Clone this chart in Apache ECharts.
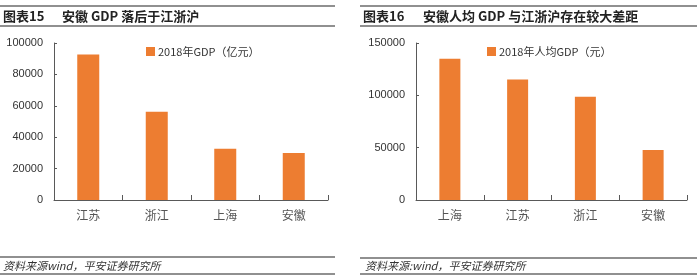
<!DOCTYPE html>
<html><head><meta charset="utf-8">
<script src="https://cdn.jsdelivr.net/npm/echarts@6/dist/echarts.min.js"></script>
<style>html,body{margin:0;padding:0;background:#fff}#c{width:700px;height:280px}</style>
</head><body><div id="c"></div>
<script>
const categoriesGDP = ['江苏', '浙江', '上海', '安徽'];
const valuesGDP = [92600, 56200, 32700, 30000];
const seriesNameGDP = '2018年GDP（亿元）';
const categoriesPC = ['上海', '江苏', '浙江', '安徽'];
const valuesPC = [134900, 115200, 98600, 47700];
const seriesNamePC = '2018年人均GDP（元）';
const yTicksGDP = { min: 0, max: 100000, interval: 20000 };
const yTicksPC = { min: 0, max: 150000, interval: 50000 };

const chart = echarts.init(document.getElementById('c'), null, { renderer: 'canvas' });
const BAR = '#ED7D31';
const AX = '#595959';
const lineStyle = { stroke: '#6b6b6b', lineWidth: 1.6 };
function hline(x1, x2, y) {
  return { type: 'line', shape: { x1: x1, y1: y, x2: x2, y2: y }, style: lineStyle, silent: true };
}
function txt(x, y, t, opts) {
  return { type: 'text', x: x, y: y, style: Object.assign({ text: t, fill: '#222', verticalAlign: 'middle', fontFamily: '"Noto Sans CJK SC", sans-serif', fontSize: 13, fontWeight: 'bold' }, opts || {}), silent: true };
}
function yAxis(idx, t) {
  return {
    type: 'value', gridIndex: idx, min: t.min, max: t.max, interval: t.interval,
    axisLine: { show: true, lineStyle: { color: AX, width: 1 } },
    axisTick: { show: true, inside: true, length: 3, lineStyle: { color: AX } },
    splitLine: { show: false },
    axisLabel: { color: '#333', fontSize: 11, fontFamily: '"Liberation Sans", Arial, sans-serif', margin: 11,
      formatter: function (v) { return String(v); } }
  };
}
function xAxis(idx, cats) {
  return {
    type: 'category', gridIndex: idx, data: cats,
    axisLine: { lineStyle: { color: AX, width: 1 } },
    axisTick: { show: true, inside: true, length: 5, lineStyle: { color: AX } },
    axisLabel: { color: '#555', fontSize: 12, fontFamily: '"Noto Sans CJK SC", serif', margin: 9 }
  };
}
chart.setOption({
  animation: false,
  grid: [
    { left: 54, right: 372, top: 43, bottom: 80 },
    { left: 416, right: 13, top: 43, bottom: 80 }
  ],
  xAxis: [xAxis(0, categoriesGDP), xAxis(1, categoriesPC)],
  yAxis: [yAxis(0, yTicksGDP), yAxis(1, yTicksPC)],
  legend: [
    { data: [seriesNameGDP], left: 141, top: 41, itemWidth: 9, itemHeight: 9, itemGap: 4, icon: 'rect',
      textStyle: { fontSize: 11, color: '#333', fontFamily: '"Noto Sans CJK SC", sans-serif', padding: [0, 0, 0, -2] } },
    { data: [seriesNamePC], left: 482, top: 41, itemWidth: 9, itemHeight: 9, itemGap: 4, icon: 'rect',
      textStyle: { fontSize: 11, color: '#333', fontFamily: '"Noto Sans CJK SC", sans-serif', padding: [0, 0, 0, -2] } }
  ],
  series: [
    { name: seriesNameGDP, type: 'bar', xAxisIndex: 0, yAxisIndex: 0, data: valuesGDP, barWidth: 22, itemStyle: { color: BAR } },
    { name: seriesNamePC, type: 'bar', xAxisIndex: 1, yAxisIndex: 1, data: valuesPC, barWidth: 21, itemStyle: { color: BAR } }
  ],
  graphic: [
    hline(0, 335, 6), hline(0, 335, 26), hline(0, 335, 257), hline(0, 335, 274),
    hline(360, 697, 6), hline(360, 697, 26), hline(360, 697, 258), hline(360, 697, 274),
    txt(3, 16, '图表15'), txt(62, 16, '安徽 GDP 落后于江浙沪'),
    txt(363, 16, '图表16'), txt(423, 16, '安徽人均 GDP 与江浙沪存在较大差距'),
    txt(3, 266, '资料来源wind，平安证券研究所', { fontSize: 11, fontWeight: 'normal', fontStyle: 'italic', fill: '#333' }),
    txt(365, 266, '资料来源:wind，平安证券研究所', { fontSize: 11, fontWeight: 'normal', fontStyle: 'italic', fill: '#333' })
  ]
});
</script></body></html>
